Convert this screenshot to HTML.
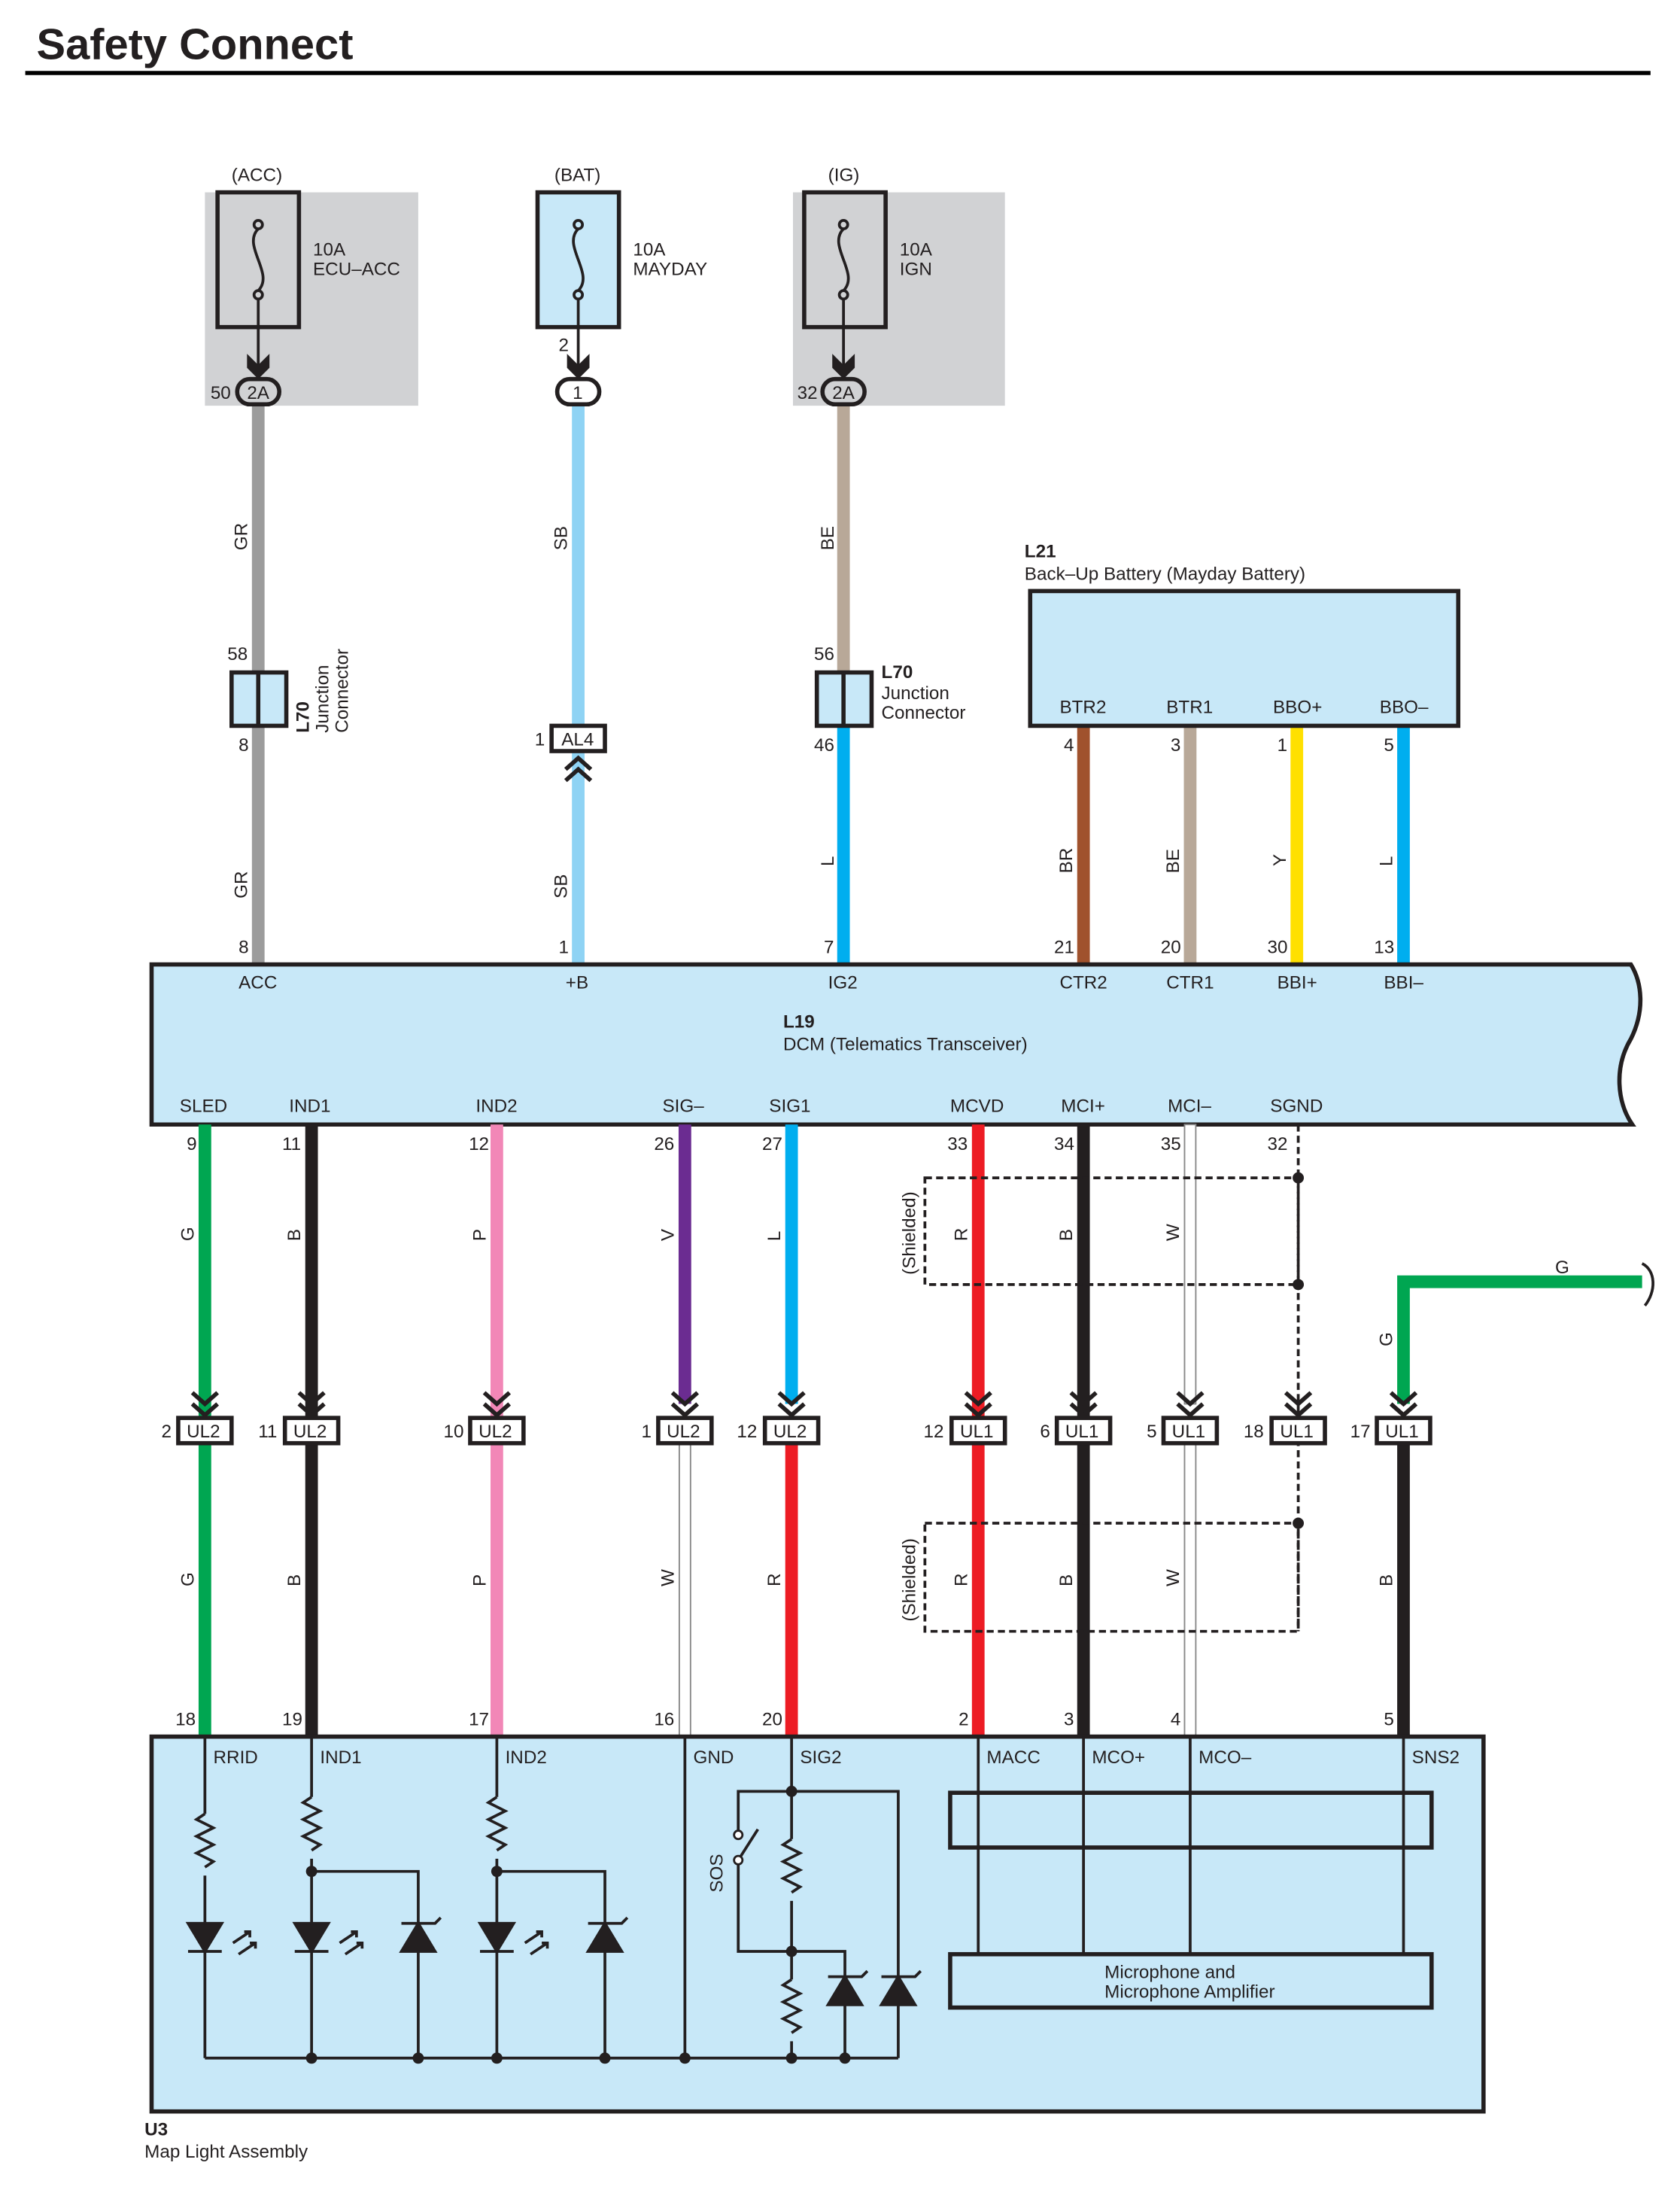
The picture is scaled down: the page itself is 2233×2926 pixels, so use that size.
<!DOCTYPE html>
<html><head><meta charset="utf-8"><style>
html,body{margin:0;padding:0;background:#fff}
svg{display:block}
text{font-family:"Liberation Sans",sans-serif;font-size:13px;fill:#231f20}
.b{font-weight:bold}
</style></head><body>
<svg width="2233" height="2926" viewBox="0 0 1197 1568.5" preserveAspectRatio="none" xmlns="http://www.w3.org/2000/svg">
<text x="26" y="42" class="b" style="font-size:31px">Safety Connect</text>
<line x1="18" y1="52" x2="1176" y2="52" stroke="#000" stroke-width="3"/>

<rect x="146" y="137" width="152" height="152" fill="#d1d2d4"/>
<rect x="565" y="137" width="151" height="152" fill="#d1d2d4"/>
<g stroke="#231f20" stroke-width="3">
<rect x="155" y="137" width="58" height="96" fill="#d1d2d4"/>
<rect x="383" y="137" width="58" height="96" fill="#c8e8f8"/>
<rect x="573" y="137" width="58" height="96" fill="#d1d2d4"/>
</g>
<text x="165" y="129">(ACC)</text><text x="395" y="129">(BAT)</text><text x="590" y="129">(IG)</text>
<text x="223" y="182">10A</text><text x="223" y="196">ECU–ACC</text>
<text x="451" y="182">10A</text><text x="451" y="196">MAYDAY</text>
<text x="641" y="182">10A</text><text x="641" y="196">IGN</text>
<g fill="none" stroke="#231f20" stroke-width="2">
<circle cx="184" cy="160" r="3"/><circle cx="184" cy="210" r="3"/><path d="M184 163 C172 175,196 195,184 207"/>
<circle cx="412" cy="160" r="3"/><circle cx="412" cy="210" r="3"/><path d="M412 163 C400 175,424 195,412 207"/>
<circle cx="601" cy="160" r="3"/><circle cx="601" cy="210" r="3"/><path d="M601 163 C589 175,613 195,601 207"/>
<line x1="184" y1="213" x2="184" y2="260"/><line x1="412" y1="213" x2="412" y2="260"/><line x1="601" y1="213" x2="601" y2="260"/>
</g>
<g fill="#231f20">
<path d="M176 252 L184 260 L192 252 L192 262 L184 270 L176 262Z"/>
<path d="M404 252 L412 260 L420 252 L420 262 L412 270 L404 262Z"/>
<path d="M593 252 L601 260 L609 252 L609 262 L601 270 L593 262Z"/>
</g>

<g stroke-width="9">
<line x1="184" y1="289" x2="184" y2="687" stroke="#9c9c9c"/>
<line x1="412" y1="289" x2="412" y2="687" stroke="#8fd3f4"/>
<line x1="601" y1="289" x2="601" y2="479" stroke="#b8a898"/>
<line x1="601" y1="517" x2="601" y2="687" stroke="#00aeef"/>
<line x1="772" y1="517" x2="772" y2="687" stroke="#a0522d"/>
<line x1="848" y1="517" x2="848" y2="687" stroke="#b8a898"/>
<line x1="924" y1="517" x2="924" y2="687" stroke="#ffe000"/>
<line x1="1000" y1="517" x2="1000" y2="687" stroke="#00aeef"/>
</g>
<g stroke="#231f20" stroke-width="3">
<rect x="169" y="270" width="30" height="18" rx="9" fill="#d1d2d4"/>
<rect x="397" y="270" width="30" height="18" rx="9" fill="#fff"/>
<rect x="586" y="270" width="30" height="18" rx="9" fill="#d1d2d4"/>
</g>
<text x="176" y="284">2A</text><text x="408" y="284">1</text><text x="593" y="284">2A</text>
<text x="150" y="284">50</text><text x="568" y="284">32</text><text x="398" y="250">2</text>

<g stroke="#231f20" stroke-width="3" fill="#c8e8f8">
<rect x="165" y="479" width="39" height="38"/><line x1="184" y1="479" x2="184" y2="517"/>
<rect x="582" y="479" width="39" height="38"/><line x1="601" y1="479" x2="601" y2="517"/>
<rect x="393" y="517" width="38" height="18" fill="#fff"/>
</g>
<text x="400" y="531">AL4</text><text x="381" y="531">1</text>
<g fill="none" stroke="#231f20" stroke-width="3"><path d="M403 548 L412 540 L421 548 M403 556 L412 548 L421 556"/></g>
<text x="162" y="470">58</text><text x="170" y="535">8</text>
<text x="580" y="470">56</text><text x="580" y="535">46</text>
<text x="628" y="483" class="b">L70</text><text x="628" y="498">Junction</text><text x="628" y="512">Connector</text>
<g transform="translate(220,522) rotate(-90)"><text x="0" y="0" class="b">L70</text><text x="0" y="14">Junction</text><text x="0" y="28">Connector</text></g>

<g>
<text transform="translate(176,392) rotate(-90)">GR</text>
<text transform="translate(176,640) rotate(-90)">GR</text>
<text transform="translate(404,392) rotate(-90)">SB</text>
<text transform="translate(404,640) rotate(-90)">SB</text>
<text transform="translate(594,392) rotate(-90)">BE</text>
<text transform="translate(594,617) rotate(-90)">L</text>
<text transform="translate(764,622) rotate(-90)">BR</text>
<text transform="translate(840,622) rotate(-90)">BE</text>
<text transform="translate(916,617) rotate(-90)">Y</text>
<text transform="translate(992,617) rotate(-90)">L</text>
</g>

<text x="730" y="397" class="b">L21</text><text x="730" y="413">Back–Up Battery (Mayday Battery)</text>
<rect x="734" y="421" width="305" height="96" fill="#c8e8f8" stroke="#231f20" stroke-width="3"/>
<text x="755" y="508">BTR2</text><text x="831" y="508">BTR1</text><text x="907" y="508">BBO+</text><text x="983" y="508">BBO–</text>
<text x="758" y="535">4</text><text x="834" y="535">3</text><text x="910" y="535">1</text><text x="986" y="535">5</text>
<text x="170" y="679">8</text><text x="398" y="679">1</text><text x="587" y="679">7</text>
<text x="751" y="679">21</text><text x="827" y="679">20</text><text x="903" y="679">30</text><text x="979" y="679">13</text>

<path d="M108 687 L1162 687 C1170 700,1172 720,1162 740 C1150 760,1152 785,1163 801 L108 801Z" fill="#c8e8f8" stroke="#231f20" stroke-width="3"/>
<text x="170" y="704">ACC</text><text x="403" y="704">+B</text><text x="590" y="704">IG2</text>
<text x="755" y="704">CTR2</text><text x="831" y="704">CTR1</text><text x="910" y="704">BBI+</text><text x="986" y="704">BBI–</text>
<text x="558" y="732" class="b">L19</text><text x="558" y="748">DCM (Telematics Transceiver)</text>
<text x="128" y="792">SLED</text><text x="206" y="792">IND1</text><text x="339" y="792">IND2</text>
<text x="472" y="792">SIG–</text><text x="548" y="792">SIG1</text><text x="677" y="792">MCVD</text>
<text x="756" y="792">MCI+</text><text x="832" y="792">MCI–</text><text x="905" y="792">SGND</text>

<g stroke-width="9">
<line x1="146" y1="801" x2="146" y2="1237" stroke="#00a651"/>
<line x1="222" y1="801" x2="222" y2="1237" stroke="#231f20"/>
<line x1="354" y1="801" x2="354" y2="1237" stroke="#f287b7"/>
<line x1="488" y1="801" x2="488" y2="1000" stroke="#6b2c91"/>
<line x1="564" y1="801" x2="564" y2="1000" stroke="#00aeef"/>
<line x1="564" y1="1028" x2="564" y2="1237" stroke="#ed1c24"/>
<line x1="697" y1="801" x2="697" y2="1237" stroke="#ed1c24"/>
<line x1="772" y1="801" x2="772" y2="1237" stroke="#231f20"/>
<line x1="1000" y1="1028" x2="1000" y2="1237" stroke="#231f20"/>
<path d="M1000 1000 L1000 913 L1170 913" fill="none" stroke="#00a651"/>
</g>
<path d="M1170 900 C1180 905,1180 920,1172 930" fill="none" stroke="#231f20" stroke-width="2"/>
<g fill="#fff" stroke="#888" stroke-width="1">
<rect x="484" y="1028" width="8" height="209"/>
<rect x="844" y="801" width="8" height="199"/>
<rect x="844" y="1028" width="8" height="209"/>
</g>
<g fill="none" stroke="#231f20" stroke-width="2" stroke-dasharray="5,3">
<rect x="659" y="839" width="266" height="76"/>
<rect x="659" y="1085" width="266" height="77"/>
<line x1="925" y1="801" x2="925" y2="1162"/>
</g>
<g fill="#231f20"><circle cx="925" cy="839" r="4"/><circle cx="925" cy="915" r="4"/><circle cx="925" cy="1085" r="4"/></g>
<text transform="translate(652,908) rotate(-90)">(Shielded)</text>
<text transform="translate(652,1155) rotate(-90)">(Shielded)</text>

<g fill="none" stroke="#231f20" stroke-width="3">
<path d="M137 992 L146 1000 L155 992 M137 1000 L146 1008 L155 1000"/>
<path d="M213 992 L222 1000 L231 992 M213 1000 L222 1008 L231 1000"/>
<path d="M345 992 L354 1000 L363 992 M345 1000 L354 1008 L363 1000"/>
<path d="M479 992 L488 1000 L497 992 M479 1000 L488 1008 L497 1000"/>
<path d="M555 992 L564 1000 L573 992 M555 1000 L564 1008 L573 1000"/>
<path d="M688 992 L697 1000 L706 992 M688 1000 L697 1008 L706 1000"/>
<path d="M763 992 L772 1000 L781 992 M763 1000 L772 1008 L781 1000"/>
<path d="M839 992 L848 1000 L857 992 M839 1000 L848 1008 L857 1000"/>
<path d="M916 992 L925 1000 L934 992 M916 1000 L925 1008 L934 1000"/>
<path d="M991 992 L1000 1000 L1009 992 M991 1000 L1000 1008 L1009 1000"/>
</g>
<g fill="#fff" stroke="#231f20" stroke-width="3">
<rect x="127" y="1010" width="38" height="18"/><rect x="203" y="1010" width="38" height="18"/>
<rect x="335" y="1010" width="38" height="18"/><rect x="469" y="1010" width="38" height="18"/>
<rect x="545" y="1010" width="38" height="18"/><rect x="678" y="1010" width="38" height="18"/>
<rect x="753" y="1010" width="38" height="18"/><rect x="829" y="1010" width="38" height="18"/>
<rect x="906" y="1010" width="38" height="18"/><rect x="981" y="1010" width="38" height="18"/>
</g>
<text x="133" y="1024">UL2</text><text x="209" y="1024">UL2</text><text x="341" y="1024">UL2</text>
<text x="475" y="1024">UL2</text><text x="551" y="1024">UL2</text><text x="684" y="1024">UL1</text>
<text x="759" y="1024">UL1</text><text x="835" y="1024">UL1</text><text x="912" y="1024">UL1</text><text x="987" y="1024">UL1</text>
<text x="115" y="1024">2</text><text x="184" y="1024">11</text><text x="316" y="1024">10</text><text x="457" y="1024">1</text>
<text x="525" y="1024">12</text><text x="658" y="1024">12</text><text x="741" y="1024">6</text><text x="817" y="1024">5</text>
<text x="886" y="1024">18</text><text x="962" y="1024">17</text>
<text x="133" y="819">9</text><text x="201" y="819">11</text><text x="334" y="819">12</text><text x="466" y="819">26</text>
<text x="543" y="819">27</text><text x="675" y="819">33</text><text x="751" y="819">34</text><text x="827" y="819">35</text><text x="903" y="819">32</text>
<text x="125" y="1229">18</text><text x="201" y="1229">19</text><text x="334" y="1229">17</text><text x="466" y="1229">16</text>
<text x="543" y="1229">20</text><text x="683" y="1229">2</text><text x="758" y="1229">3</text><text x="834" y="1229">4</text><text x="986" y="1229">5</text>
<g>
<text transform="translate(138,884) rotate(-90)">G</text><text transform="translate(214,884) rotate(-90)">B</text>
<text transform="translate(346,884) rotate(-90)">P</text><text transform="translate(480,884) rotate(-90)">V</text>
<text transform="translate(556,884) rotate(-90)">L</text><text transform="translate(689,884) rotate(-90)">R</text>
<text transform="translate(764,884) rotate(-90)">B</text><text transform="translate(840,884) rotate(-90)">W</text>
<text transform="translate(992,959) rotate(-90)">G</text><text x="1108" y="907">G</text>
<text transform="translate(138,1130) rotate(-90)">G</text><text transform="translate(214,1130) rotate(-90)">B</text>
<text transform="translate(346,1130) rotate(-90)">P</text><text transform="translate(480,1130) rotate(-90)">W</text>
<text transform="translate(556,1130) rotate(-90)">R</text><text transform="translate(689,1130) rotate(-90)">R</text>
<text transform="translate(764,1130) rotate(-90)">B</text><text transform="translate(840,1130) rotate(-90)">W</text>
<text transform="translate(992,1130) rotate(-90)">B</text>
</g>

<rect x="108" y="1237" width="949" height="267" fill="#c8e8f8" stroke="#231f20" stroke-width="3"/>
<text x="152" y="1256">RRID</text><text x="228" y="1256">IND1</text><text x="360" y="1256">IND2</text>
<text x="494" y="1256">GND</text><text x="570" y="1256">SIG2</text><text x="703" y="1256">MACC</text>
<text x="778" y="1256">MCO+</text><text x="854" y="1256">MCO–</text><text x="1006" y="1256">SNS2</text>
<text x="103" y="1521" class="b">U3</text><text x="103" y="1537">Map Light Assembly</text>
<g fill="none" stroke="#231f20" stroke-width="2">
<line x1="146" y1="1237" x2="146" y2="1292"/><path d="M146 1292 l-6 4 l12 6 l-12 6 l12 6 l-12 6 l12 6 l-6 4"/><line x1="146" y1="1336" x2="146" y2="1466"/>
<line x1="222" y1="1237" x2="222" y2="1280"/><path d="M222 1280 l-6 4 l12 6 l-12 6 l12 6 l-12 6 l12 6 l-6 4"/><line x1="222" y1="1324" x2="222" y2="1466"/>
<line x1="354" y1="1237" x2="354" y2="1280"/><path d="M354 1280 l-6 4 l12 6 l-12 6 l12 6 l-12 6 l12 6 l-6 4"/><line x1="354" y1="1324" x2="354" y2="1466"/>
<path d="M222 1333 L298 1333 L298 1466 M354 1333 L431 1333 L431 1466"/>
<line x1="488" y1="1237" x2="488" y2="1466"/>
<line x1="146" y1="1466" x2="640" y2="1466"/>
<line x1="564" y1="1237" x2="564" y2="1310"/><path d="M564 1310 l-6 4 l12 6 l-12 6 l12 6 l-12 6 l12 6 l-6 4"/><line x1="564" y1="1354" x2="564" y2="1410"/>
<path d="M564 1410 l-6 4 l12 6 l-12 6 l12 6 l-12 6 l12 6 l-6 4"/><line x1="564" y1="1454" x2="564" y2="1466"/>
<path d="M564 1276 L640 1276 L640 1466 M564 1276 L526 1276 L526 1305 M526 1325 L526 1390 L602 1390 L602 1466 M526 1325 L540 1303"/>
<line x1="697" y1="1237" x2="697" y2="1392"/><line x1="772" y1="1237" x2="772" y2="1392"/>
<line x1="848" y1="1237" x2="848" y2="1392"/><line x1="1000" y1="1237" x2="1000" y2="1392"/>
<path d="M166 1384 l12 -8 m-4 0 l4 0 l0 4 M170 1392 l12 -8 m-4 0 l4 0 l0 4"/>
<path d="M242 1384 l12 -8 m-4 0 l4 0 l0 4 M246 1392 l12 -8 m-4 0 l4 0 l0 4"/>
<path d="M374 1384 l12 -8 m-4 0 l4 0 l0 4 M378 1392 l12 -8 m-4 0 l4 0 l0 4"/>
</g>
<circle cx="526" cy="1307" r="3" fill="#fff" stroke="#231f20" stroke-width="1.5"/>
<circle cx="526" cy="1325" r="3" fill="#fff" stroke="#231f20" stroke-width="1.5"/>
<text transform="translate(515,1348) rotate(-90)">SOS</text>
<g fill="#231f20" stroke="#231f20" stroke-width="2">
<path d="M134 1370 L158 1370 L146 1390Z"/><line x1="134" y1="1390" x2="158" y2="1390"/>
<path d="M210 1370 L234 1370 L222 1390Z"/><line x1="210" y1="1390" x2="234" y2="1390"/>
<path d="M342 1370 L366 1370 L354 1390Z"/><line x1="342" y1="1390" x2="366" y2="1390"/>
<path d="M286 1390 L310 1390 L298 1370Z"/><path d="M286 1370 L310 1370 l4 -4" fill="none"/>
<path d="M419 1390 L443 1390 L431 1370Z"/><path d="M419 1370 L443 1370 l4 -4" fill="none"/>
<path d="M590 1428 L614 1428 L602 1408Z"/><path d="M590 1408 L614 1408 l4 -4" fill="none"/>
<path d="M628 1428 L652 1428 L640 1408Z"/><path d="M628 1408 L652 1408 l4 -4" fill="none"/>
</g>
<g fill="#231f20">
<circle cx="222" cy="1333" r="4"/><circle cx="354" cy="1333" r="4"/><circle cx="564" cy="1276" r="4"/><circle cx="564" cy="1390" r="4"/>
<circle cx="222" cy="1466" r="4"/><circle cx="298" cy="1466" r="4"/><circle cx="354" cy="1466" r="4"/><circle cx="431" cy="1466" r="4"/>
<circle cx="488" cy="1466" r="4"/><circle cx="564" cy="1466" r="4"/><circle cx="602" cy="1466" r="4"/>
</g>
<g fill="#c8e8f8" stroke="#231f20" stroke-width="3">
<rect x="677" y="1277" width="343" height="39"/>
<rect x="677" y="1392" width="343" height="38"/>
</g>
<g stroke="#231f20" stroke-width="2"><line x1="697" y1="1277" x2="697" y2="1316"/><line x1="772" y1="1277" x2="772" y2="1316"/><line x1="848" y1="1277" x2="848" y2="1316"/><line x1="1000" y1="1277" x2="1000" y2="1316"/></g>
<text x="787" y="1409">Microphone and</text><text x="787" y="1423">Microphone Amplifier</text>
</svg>
</body></html>
